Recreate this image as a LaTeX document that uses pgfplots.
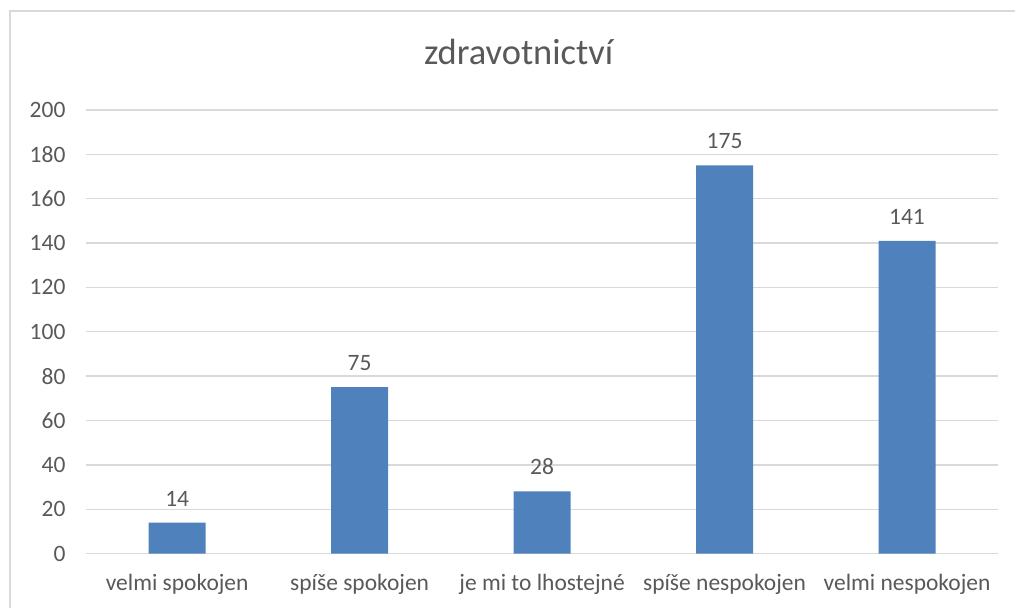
\documentclass[border=0pt]{standalone}
\usepackage{fontspec}
\setmainfont{Carlito}
\usepackage{pgfplots}
\pgfplotsset{compat=1.18}
\definecolor{barblue}{HTML}{4F81BD}
\definecolor{gridgray}{HTML}{D9D9D9}
\definecolor{txtgray}{HTML}{595959}
\begin{document}
\begin{tikzpicture}
\begin{axis}[
  scale only axis,
  width=913bp, height=444bp,
  at={(0,0)}, anchor=south west,
  xmin=-0.5, xmax=4.5, ymin=0, ymax=200,
  xtick={0,1,2,3,4},
  xticklabels={velmi spokojen, spíše spokojen, je mi to lhostejné, spíše nespokojen, velmi nespokojen},
  ytick={0,20,...,200},
  ymajorgrids, grid style={draw=gridgray, line width=1.4bp},
  axis line style={draw=none},
  major tick length=0pt,
  /pgf/number format/assume math mode=true,
  tick label style={font=\fontsize{23.5bp}{28bp}\selectfont, text=txtgray},
  yticklabel style={xshift=-17bp},
  xticklabel style={yshift=-17bp},
  nodes near coords,
  every node near coord/.append style={font=\fontsize{23.5bp}{28bp}\selectfont, text=txtgray, yshift=13bp},
  ybar, bar width=57bp,
]
\addplot[fill=barblue, draw=none] coordinates {(0,14) (1,75) (2,28) (3,175) (4,141)};
\end{axis}
\path (-86bp,-54bp) rectangle (930bp,554bp);
\draw[gridgray, line width=1.5bp] (-76bp,-54bp) -- (-76bp,543bp) -- (930bp,543bp);
\node[anchor=base, text=txtgray, font=\fontsize{36.5bp}{42bp}\selectfont] at (433bp,489bp) {zdravotnictví};
\end{tikzpicture}
\end{document}
